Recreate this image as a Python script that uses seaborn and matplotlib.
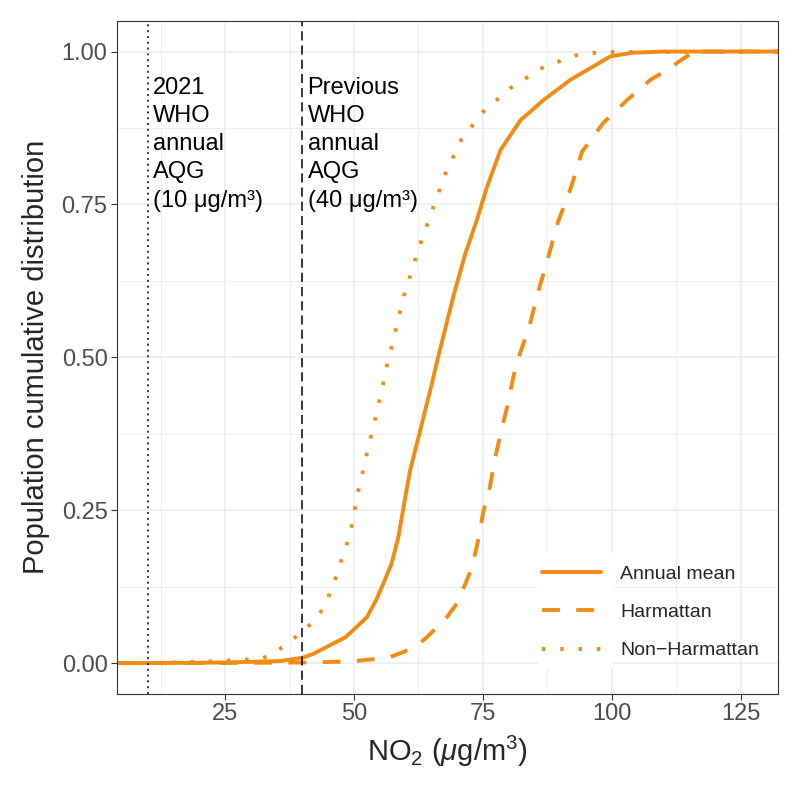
import numpy as np
import pandas as pd
import seaborn as sns
import matplotlib.pyplot as plt
from matplotlib.patches import Rectangle
from matplotlib.ticker import FixedLocator, FormatStrFormatter

#### Data

series_order = ["Annual mean", "Harmattan", "Non\u2212Harmattan"]

# first / last points stand in for the -Inf / +Inf padding of an ECDF
annual_x = [4.1, 10, 20, 25, 30, 35.6, 40, 42.1, 45.3, 48.3, 50.5, 52.5, 54.4, 55.7, 57.3,
            58.6, 59.6, 60.9, 62.2, 63.5, 65.1, 66.3, 69.4, 71.6, 73.8, 75.8, 78.4,
            82.3, 86.8, 92.0, 99.7, 104, 110, 132.3]
annual_y = [0.0, 0.0, 0.0005, 0.001, 0.002, 0.0033, 0.0087, 0.015, 0.029, 0.042, 0.059, 0.075,
            0.105, 0.13, 0.163, 0.206, 0.255, 0.316, 0.359, 0.403, 0.457, 0.5, 0.604,
            0.67, 0.724, 0.779, 0.839, 0.888, 0.921, 0.954, 0.992, 0.998, 1.0, 1.0]

harm_x = [4.1, 10, 20, 30, 42.1, 49.9, 54.4, 57.0, 59.6, 62.2, 64.1, 66.1, 68.0, 69.9, 71.6,
          72.9, 74.2, 75.1, 76.1, 77.4, 78.4, 79.7, 80.9, 81.9, 83.9, 85.6, 87.6, 89.5,
          92.0, 94.2, 98.3, 103, 107.5, 110.8, 113.4, 116, 132.3]
harm_y = [0.0, 0.0, 0.0, 0.0005, 0.001, 0.003, 0.007, 0.01, 0.018, 0.029, 0.042, 0.059, 0.075,
          0.097, 0.13, 0.157, 0.206, 0.249, 0.277, 0.337, 0.374, 0.419, 0.468, 0.5,
          0.547, 0.604, 0.662, 0.72, 0.776, 0.836, 0.883, 0.921, 0.954, 0.97, 0.986,
          1.0, 1.0]

nonharm_x = [4.1, 10, 15, 23, 32, 34.5, 36.9, 39.8, 42.4, 44.4, 45.7, 47.0, 47.9, 49.2, 49.9,
             50.5, 51.2, 52.1, 52.8, 53.8, 54.4, 55.4, 56.0, 56.8, 59.7, 63.0, 65.4,
             67.8, 70.8, 75.1, 80.3, 86.8, 93.3, 97.8, 132.3]
nonharm_y = [0.0, 0.0, 0.001, 0.003, 0.007, 0.016, 0.031, 0.05, 0.07, 0.094, 0.123, 0.152,
             0.179, 0.209, 0.239, 0.269, 0.296, 0.326, 0.356, 0.386, 0.414, 0.444, 0.474,
             0.5, 0.6015, 0.689, 0.746, 0.802, 0.856, 0.902, 0.94, 0.975, 0.9945, 0.999,
             1.0]

guide_x = [10, 40]
guide_labels = ["2021\nWHO\nannual\nAQG\n(10 \u03bcg/m\u00b3)",
                "Previous\nWHO\nannual\nAQG\n(40 \u03bcg/m\u00b3)"]

x_ticks = [25, 50, 75, 100, 125]
y_ticks = [0.0, 0.25, 0.5, 0.75, 1.0]

#### Table for seaborn
df = pd.concat([
    pd.DataFrame({"x": annual_x, "y": annual_y, "series": series_order[0]}),
    pd.DataFrame({"x": harm_x, "y": harm_y, "series": series_order[1]}),
    pd.DataFrame({"x": nonharm_x, "y": nonharm_y, "series": series_order[2]}),
], ignore_index=True)

#### Plot
sns.set_style("white")
plt.rcParams["font.family"] = ["Liberation Sans", "DejaVu Sans"]
plt.rcParams["mathtext.fontset"] = "custom"
plt.rcParams["mathtext.rm"] = "Liberation Sans"
plt.rcParams["mathtext.it"] = "Liberation Sans:italic"

orange = "#F28B12"
grid_col = "#EBEBEB"
lw = 2.8

fig, ax = plt.subplots(figsize=(8, 7.94), dpi=100, facecolor="white")
fig.subplots_adjust(left=0.1466, right=0.9731, top=0.9736, bottom=0.1264)

sns.lineplot(data=df, x="x", y="y", style="series", style_order=series_order,
             dashes={series_order[0]: "", series_order[1]: (4.6, 4.2), series_order[2]: (0.9, 3.8)},
             color=orange, linewidth=lw, estimator=None, sort=True, ax=ax)

ax.axvline(guide_x[0], color="black", lw=1.1, dashes=(1.3, 2.5))
ax.axvline(guide_x[1], color="black", lw=1.1, dashes=(6, 3.3))

for gx, lab in zip(guide_x, guide_labels):
    ax.text(gx + 1.0, 0.959, lab, ha="left", va="top", fontsize=17,
            linespacing=1.37, color="black")

ax.set_xlim(4.1, 132.3)
ax.set_ylim(-0.05, 1.05)
ax.xaxis.set_major_locator(FixedLocator(x_ticks))
ax.yaxis.set_major_locator(FixedLocator(y_ticks))
ax.xaxis.set_minor_locator(FixedLocator([12.5, 37.5, 62.5, 87.5, 112.5]))
ax.yaxis.set_minor_locator(FixedLocator([0.125, 0.375, 0.625, 0.875]))
ax.yaxis.set_major_formatter(FormatStrFormatter("%.2f"))

ax.grid(which="major", color=grid_col, lw=1.1)
ax.grid(which="minor", color=grid_col, lw=0.6)
ax.set_axisbelow(True)
ax.tick_params(which="major", length=4, width=0.8, color="#333333",
               labelsize=17, labelcolor="#4D4D4D", pad=3, left=True, bottom=True)
ax.tick_params(which="minor", length=0)
for s in ax.spines.values():
    s.set_color("#333333")
    s.set_linewidth(0.8)

ax.set_xlabel(r"NO$_2$ ($\mu$g/m$^3$)", fontsize=21, labelpad=6)
ax.set_ylabel("Population cumulative distribution", fontsize=21, labelpad=8)

# white legend key area (ggplot legend.key), gridlines run behind the labels
ax.add_patch(Rectangle((0.636, 0.0375), 0.113, 0.171, transform=ax.transAxes,
                       facecolor="white", edgecolor="none", zorder=1))

handles, labels = ax.get_legend_handles_labels()
leg = ax.legend(handles, labels, loc="lower right", bbox_to_anchor=(1.0, 0.022),
                frameon=False, fontsize=14, handlelength=3.0, labelspacing=1.06,
                handletextpad=1.0, borderpad=0.5)
for h in leg.get_lines():
    h.set_linewidth(lw)

plt.savefig("out.png", dpi=100, facecolor="white")
